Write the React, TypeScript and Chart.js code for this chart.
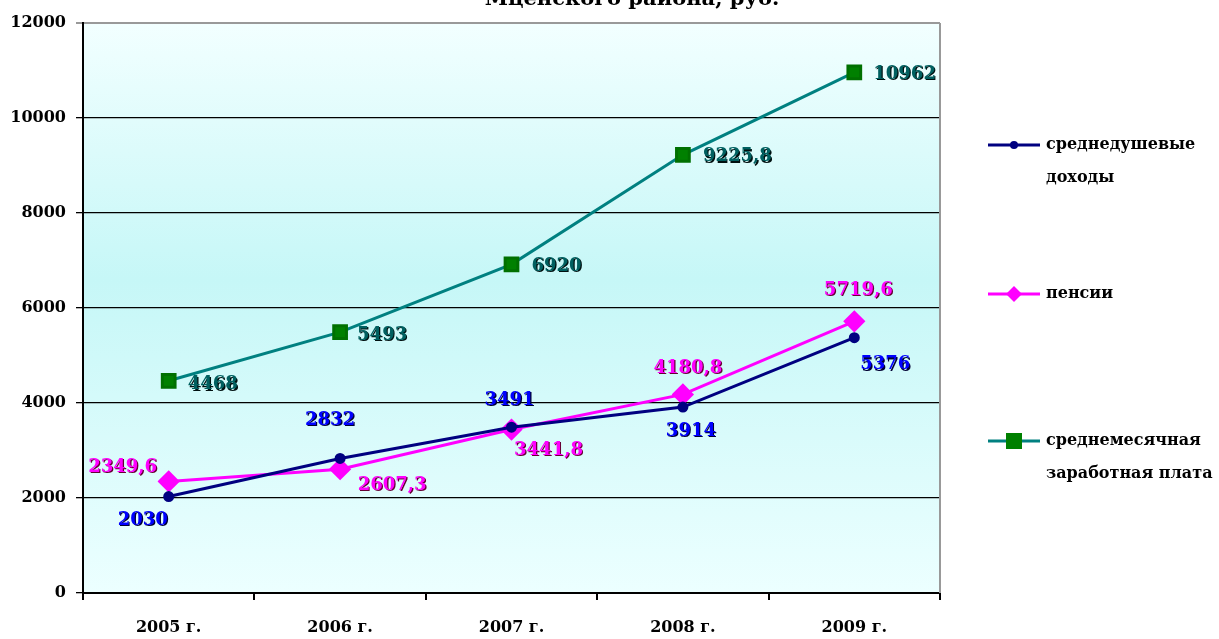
import { useEffect, useRef } from 'react';
import { Chart, registerables } from 'chart.js';

Chart.register(...registerables);

const categories = ['2005 г.', '2006 г.', '2007 г.', '2008 г.', '2009 г.'];
const incomePerCapita = [2030, 2832, 3491, 3914, 5376];
const pensions = [2349.6, 2607.3, 3441.8, 4180.8, 5719.6];
const avgMonthlyWage = [4468, 5493, 6920, 9225.8, 10962];
const seriesNames = [['среднедушевые', 'доходы'], ['пенсии'], ['среднемесячная', 'заработная плата']];
const yMin = 0;
const yMax = 12000;
const yStep = 2000;
const titleText = 'Мценского района, руб.';

// label placement (styling): [dx, dy, align]
const labelOffsets: [number, number, CanvasTextAlign][][] = [
  [[-26, 24, 'center'], [-10, -38, 'center'], [-2, -27, 'center'], [8, 24, 'center'], [31, 27, 'center']],
  [[-46, -14, 'center'], [52, 16, 'center'], [37, 21, 'center'], [5, -26, 'center'], [4, -31, 'center']],
  [[19, 4, 'left'], [17, 3, 'left'], [20, 2, 'left'], [20, 2, 'left'], [19, 2, 'left']],
];
const labelColors = [
  { fill: '#0000ff', shadow: '#000033' },
  { fill: '#ff00ff', shadow: '#660033' },
  { fill: '#006060', shadow: '#001010' },
];

const FONT = '"DejaVu Serif", "Liberation Serif", serif';

const fmt = (v: number) => String(v).replace('.', ',');

const bgPlugin = {
  id: 'bgPlugin',
  beforeDraw(chart: any) {
    const { ctx, chartArea: a } = chart;
    const g = ctx.createLinearGradient(0, a.top, 0, a.bottom);
    g.addColorStop(0, '#f2ffff');
    g.addColorStop(0.45, '#c6f7f7');
    g.addColorStop(1, '#ecffff');
    ctx.save();
    ctx.fillStyle = g;
    ctx.fillRect(a.left, a.top, a.right - a.left, a.bottom - a.top);
    ctx.restore();
  },
  afterDraw(chart: any) {
    const { ctx, chartArea: a } = chart;
    ctx.save();
    ctx.strokeStyle = '#999999';
    ctx.lineWidth = 2;
    ctx.beginPath();
    ctx.moveTo(a.right, a.top);
    ctx.lineTo(a.right, a.bottom);
    ctx.stroke();
    ctx.fillStyle = '#000';
    ctx.font = `bold 21px ${FONT}`;
    ctx.textAlign = 'center';
    ctx.textBaseline = 'alphabetic';
    ctx.fillText(titleText, 632, 5);
    const ds = chart.data.datasets;
    const ys = [145, 294, 441];
    ds.forEach((d: any, i: number) => {
      const y = ys[i];
      ctx.strokeStyle = d.borderColor;
      ctx.lineWidth = 3;
      ctx.beginPath();
      ctx.moveTo(988, y);
      ctx.lineTo(1040, y);
      ctx.stroke();
      ctx.fillStyle = d.pointBackgroundColor;
      const mx = 1014;
      if (d.pointStyle === 'circle') {
        ctx.beginPath();
        ctx.arc(mx, y, 4, 0, Math.PI * 2);
        ctx.fill();
      } else if (d.pointStyle === 'rectRot') {
        ctx.beginPath();
        ctx.moveTo(mx, y - 8);
        ctx.lineTo(mx + 8, y);
        ctx.lineTo(mx, y + 8);
        ctx.lineTo(mx - 8, y);
        ctx.closePath();
        ctx.fill();
      } else {
        ctx.fillRect(mx - 8, y - 8, 16, 16);
      }
      ctx.fillStyle = '#000';
      ctx.font = `bold 16px ${FONT}`;
      ctx.textAlign = 'left';
      ctx.textBaseline = 'middle';
      seriesNames[i].forEach((line, k) => {
        ctx.fillText(line, 1046, y + k * 33);
      });
    });
    ctx.restore();
  },
  afterDatasetsDraw(chart: any) {
    const { ctx } = chart;
    ctx.save();
    ctx.font = `bold 18px ${FONT}`;
    ctx.textBaseline = 'middle';
    chart.data.datasets.forEach((d: any, i: number) => {
      const meta = chart.getDatasetMeta(i);
      meta.data.forEach((pt: any, j: number) => {
        const [dx, dy, align] = labelOffsets[i][j];
        const txt = fmt(d.data[j]);
        ctx.textAlign = align;
        ctx.fillStyle = labelColors[i].shadow;
        ctx.fillText(txt, pt.x + dx + 1.2, pt.y + dy + 1.2);
        ctx.fillStyle = labelColors[i].fill;
        ctx.fillText(txt, pt.x + dx, pt.y + dy);
      });
    });
    ctx.restore();
  },
};

export default function App() {
  const ref = useRef<HTMLCanvasElement | null>(null);
  useEffect(() => {
    if (!ref.current) return;
    const chart = new Chart(ref.current, {
      type: 'line',
      data: {
        labels: categories,
        datasets: [
          {
            label: seriesNames[0].join(' '),
            data: incomePerCapita,
            borderColor: '#000080',
            backgroundColor: '#000080',
            pointBackgroundColor: '#000080',
            pointBorderColor: '#000080',
            pointStyle: 'circle',
            pointRadius: 4,
            borderWidth: 3,
          },
          {
            label: seriesNames[1].join(' '),
            data: pensions,
            borderColor: '#ff00ff',
            backgroundColor: '#ff00ff',
            pointBackgroundColor: '#ff00ff',
            pointBorderColor: '#ff00ff',
            pointStyle: 'rectRot',
            pointRadius: 9,
            borderWidth: 3,
          },
          {
            label: seriesNames[2].join(' '),
            data: avgMonthlyWage,
            borderColor: '#008080',
            backgroundColor: '#008000',
            pointBackgroundColor: '#008000',
            pointBorderColor: '#007000',
            pointStyle: 'rect',
            pointRadius: 9,
            borderWidth: 3,
          },
        ],
      },
      options: {
        animation: false,
        responsive: true,
        maintainAspectRatio: false,
        layout: { padding: { top: 23, right: 279, left: 0, bottom: 0 } },
        plugins: {
          legend: { display: false },
          title: { display: false },
          tooltip: { enabled: false },
        },
        scales: {
          x: {
            offset: true,
            grid: {
              offset: true,
              drawOnChartArea: false,
              drawTicks: true,
              tickLength: 7,
              color: '#000',
              lineWidth: 2,
            },
            border: { color: '#000', width: 2 },
            ticks: {
              color: '#000',
              font: { family: FONT, size: 16, weight: 'bold' },
              padding: 18,
              maxRotation: 0,
            },
            afterFit(scale: any) {
              scale.height = 46;
            },
          },
          y: {
            min: yMin,
            max: yMax,
            ticks: {
              stepSize: yStep,
              color: '#000',
              font: { family: FONT, size: 16, weight: 'bold' },
              padding: 10,
              callback: (v: any) => String(v),
            },
            grid: {
              color: (c: any) => (c.tick && c.tick.value === yMax ? '#999999' : '#000000'),
              lineWidth: (c: any) => (c.tick && c.tick.value === yMax ? 2 : 1.3),
              tickLength: 7,
              drawTicks: true,
            },
            border: { color: '#000', width: 2 },
            afterFit(scale: any) {
              scale.width = 83;
            },
          },
        },
      },
      plugins: [bgPlugin],
    });
    return () => chart.destroy();
  }, []);
  return (
    <div style={{ position: 'fixed', left: 0, top: 0, width: 1219, height: 639, background: '#fff' }}>
      <canvas ref={ref} />
    </div>
  );
}
